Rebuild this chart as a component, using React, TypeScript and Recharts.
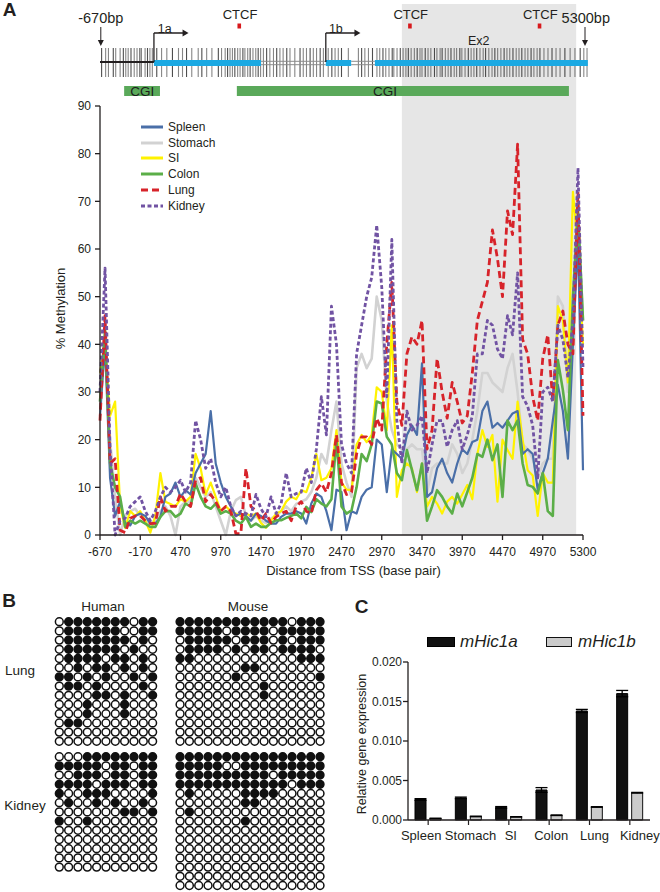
import React from 'react';
import {
  ComposedChart, LineChart, Line, XAxis, YAxis, ReferenceArea, ReferenceLine, ReferenceDot,
  Legend, Label, ScatterChart, Scatter, BarChart, Bar, ErrorBar,
} from 'recharts';

const FONT = '"Liberation Sans", Arial, Helvetica, sans-serif';
const INK = '#231f20';

// ---------------- Panel A : methylation profile ----------------
const POS = [0,0.125,0.25,0.375,0.5,0.625,0.75,0.875,1,1.125,1.25,1.375,1.5,1.625,1.75,1.875,2,2.125,2.25,2.375,2.5,2.625,2.75,2.875,3,3.125,3.25,3.375,3.5,3.625,3.75,3.875,4,4.125,4.25,4.375,4.5,4.625,4.75,4.875,5,5.125,5.25,5.375,5.5,5.625,5.75,5.875,6,6.125,6.25,6.375,6.5,6.625,6.75,6.875,7,7.125,7.25,7.375,7.5,7.625,7.75,7.875,8,8.125,8.25,8.375,8.5,8.625,8.75,8.875,9,9.125,9.25,9.375,9.5,9.625,9.75,9.875,10,10.125,10.25,10.375,10.5,10.625,10.75,10.875,11,11.125,11.25,11.375,11.5,11.625,11.75,11.875,12];
const X_TICKS = [0,1,2,3,4,5,6,7,8,9,10,11,12];
const X_TICK_LABELS = ['-670','-170','470','970','1470','1970','2470','2970','3470','3970','4470','4970','5300'];
const Y_TICKS = [0,10,20,30,40,50,60,70,80,90];

const SPLEEN = [25,40,12,4,7,2.5,2,4,4.5,4, 2.4,2.4,3.8,8,8.7,11,8,9.4,8.5,13, 15,17,26,15,11,8,6,4,4.5,4, 3,4.5,4,3,2.4,2.4,3.8,4.5,4.5,5, 4.5,2.4,6.6,8.7,8,5,1,9.5,9,1, 5,4.5,8,9.5,10,20,19,9,18,17, 16,21,23,21,36,8,9,14,16,13, 11,15,18,17,19.5,20,26,28,22.5,23.5, 22.5,24,25.5,26,17,18,17,9.5,13,16, 24,31.5,26,16,40,62,13.6];
const STOMACH = [28,40,20,8,0,4,5,5.5,4,3, 2.5,3,5,6,4,0,6,7,7,12, 10,8,9,6,3,0,5,7.3,8,4, 3,4,3,2.5,3.5,4,5,6,5,6.5, 7,7.5,9,12,17,15,22,28,15,11, 8,35,38,35,37,50,45,28,22,19, 18,18,19,18,18,9,14,15,15,15, 19,17,13,15,20,26,34,34,32,31, 30,35,38,30,19,18,16,12,15,16, 16,50,48,30,45,68,45];
const SI = [34,40,25,28,6,1.5,5,4,5,3, 0.5,4,13,7,6.5,6,7.5,7,8,17, 14,8.5,11,8,5,6,5,4.5,4,4.5, 4,4.5,2.5,1.5,3,4.5,5,7,8,7.5, 9.4,9,12,17,11.5,12,14,22,11,9.5, 9.4,19,21,19.5,21,31,30,22,44,8, 13.6,15,14,9,15,6,8,6.6,4.5,7, 8,6.6,8.5,10.5,7.5,17,22,18.5,21,7, 20,17.8,16,28,20,13.6,12.5,4,13,11, 11,48,45,32,72,60,40];
const COLON = [28,43,15,10,8,1.7,3,2.4,3,2.4, 1.7,1.7,3.8,5,5,3.8,4.5,6.6,6,10.8, 8,6,5.5,6.6,4.5,5,4.5,3,2.4,3.8, 1.7,2.4,1.7,1.7,2.5,3.1,3.1,3.6,4,4.5, 3.5,5.9,4.8,7.5,6.6,6,7.5,20,6,4.5, 5.2,10,17,15.5,19,28,27.6,20.6,19,13, 11.5,17.8,13.6,9.4,15,3,6,9.4,8,6, 4.5,8.7,6,9,12,17,16.4,20,15.7,19, 8,24,22,24,15,10.5,10.1,8.7,13,5, 4,36.7,30.4,22,50,68,45];
const LUNG = [24,46,15,16,1,0.5,3.5,4,4,3, 2.4,2.5,8,5,6,6,8.7,7,6,11.5, 12,7,8.5,7,5,6,5,0.3,0.3,14, 6,5,3,4.5,2.5,3.8,4.5,5,3,6, 7,5,4.5,9.4,10.8,9,13,21,11,8.5, 9,17,20.6,20.6,19,24.5,22,40,53,28, 23,38,41.6,40,45,18,22,37,30,24.5, 32,28,23.5,25,34,45,49,53,64,58, 50,68,63,82,41,38,29,24,37,42, 28,44,47,40,38,72,25];
const KIDNEY = [30,56,18,0,3,3.5,6,7,8,5, 3,5,8,10,9,10,11.5,9,11,24, 20,14,16,11,8,10,6,4,5,4.5, 4,8.5,5.5,3.8,8,4.5,6.6,13,8,8.7, 9,14,11,18,29,21,48,40,19,15, 13,38,44,50,54,65,52,29,62,24, 15,26,22,23,25,13,19,24,24,18.5, 22,24,18,21,25,38,38,45,44,39, 37,46,42,55,29,27,23,12,30,31, 28,44,41,33,45,77,35];

const SERIES = [
  { key: 'spleen', name: 'Spleen', color: '#4a6fa8', width: 2.2, dash: undefined as string | undefined },
  { key: 'stomach', name: 'Stomach', color: '#d2d2d2', width: 2.6, dash: undefined },
  { key: 'si', name: 'SI', color: '#fff200', width: 2.2, dash: undefined },
  { key: 'colon', name: 'Colon', color: '#5bae48', width: 2.6, dash: undefined },
  { key: 'lung', name: 'Lung', color: '#d7232a', width: 2.8, dash: '7 4' },
  { key: 'kidney', name: 'Kidney', color: '#7153a3', width: 2.8, dash: '4 2.5' },
];
const DRAW_ORDER = ['stomach', 'si', 'spleen', 'colon', 'lung', 'kidney'];

const METH_ROWS = POS.map((pos, i) => ({
  pos, spleen: SPLEEN[i], stomach: STOMACH[i], si: SI[i], colon: COLON[i], lung: LUNG[i], kidney: KIDNEY[i],
}));

// gene map (positions in the same axis units as the profile)
const CPG_SITES = [
  0.04,0.14,0.21,0.33,0.39,0.5,0.58,0.64,0.7,0.77,0.85,0.92,0.99,1.03,1.12,1.18,1.24,1.3,
  1.41,1.53,1.66,1.8,1.95,2.05,2.15,2.28,2.44,2.53,2.65,2.78,2.94,3.02,3.11,3.17,3.23,3.29,3.35,3.42,3.48,3.55,3.6,3.67,3.73,3.8,3.87,3.93,3.99,
  4.06,4.14,4.22,4.31,4.39,4.47,4.55,4.64,4.72,4.84,4.97,5.05,5.13,5.22,5.3,5.38,5.47,5.55,
  5.67,5.76,5.84,5.92,6.0,6.17,6.42,6.5,6.58,6.67,6.77,
  6.88,6.95,7.03,7.1,7.18,7.26,7.3,7.38,7.46,7.53,7.6,7.66,7.73,7.81,7.88,7.95,8.0,8.08,8.15,8.22,8.31,8.37,8.45,8.5,8.58,8.65,8.72,8.8,8.86,8.94,8.99,9.07,9.15,9.22,9.29,9.36,9.44,9.52,9.58,9.66,9.74,9.81,9.88,9.96,10.04,10.11,10.18,10.26,10.34,10.41,10.48,10.56,10.63,10.71,10.78,10.86,10.93,11.03,11.13,11.23,11.33,11.43,11.55,11.68,11.8,11.93,12.02,12.1,
];
const EXONS = [[1.34, 4.0], [5.61, 6.24], [6.83, 12.12]];
const INTRONS = [[4.0, 5.61], [6.24, 6.83]];
const CGI_REGIONS = [[0.6, 1.49], [3.4, 11.65]];
const CGI_LABEL_POS = [1.05, 7.08];
const CTCF_SITES = [3.46, 7.7, 10.92];
const EXON2_REGION = [7.5, 11.83];
const TSS_1A = 1.34;
const TSS_1B = 5.61;
const START_POS = 0.02;
const END_POS = 12.05;

// ---------------- Panel B : bisulfite clones ----------------
const HUMAN_LUNG = [
  '01111111011','01111110011','01111111010','01111110100','01111011010','00101101010','11010100101',
  '01101000010','00001101001','00010001000','00010001000','01100000000','00000000000','00000000000',
];
const MOUSE_LUNG = [
  '1111111111110111','1111101111011111','0111110111010111','0111101011011110','1100000000000111',
  '0000000110000000','0000001000000001','0000000001000000','0000000001000000','0000000000000000',
  '0000000000000000','0000000000000000','0000000000000000','0000000000000000',
];
const HUMAN_KIDNEY = [
  '00011111111','11111011011','00111011011','11110111011','10011100001','01001010010','00000001101',
  '10010000000','00000000000','00000000000','00000000000','00000000000','00000000000',
];
const MOUSE_KIDNEY = [
  '1111111111111111','1111100111111111','1111111111011111','1111111111110111','0100000111100000',
  '0000000110000000','0100000000000000','0000000100000000','0000000000000000','0000000000000000',
  '0000000000000000','0000000000000000','0000000000000000','0000000000000000','0000000000000000',
];
const B_GRIDS = [
  { rows: HUMAN_LUNG, col0: 0, row0: 0 },
  { rows: MOUSE_LUNG, col0: 12.94, row0: 0 },
  { rows: HUMAN_KIDNEY, col0: 0, row0: 14.67 },
  { rows: MOUSE_KIDNEY, col0: 12.94, row0: 14.67 },
];
const CLONE_DOTS = B_GRIDS.flatMap((g) =>
  g.rows.flatMap((row, r) => row.split('').map((ch, c) => ({ col: g.col0 + c, row: g.row0 + r, on: ch === '1' }))),
);

// ---------------- Panel C : expression ----------------
const TISSUES = ['Spleen', 'Stomach', 'SI', 'Colon', 'Lung', 'Kidney'];
const HIC1A = [0.0026, 0.0028, 0.0016, 0.0038, 0.0138, 0.0160];
const HIC1A_ERR = [0.0001, 0.0001, 0.0001, 0.0003, 0.0002, 0.0004];
const HIC1B = [0.0002, 0.00045, 0.0004, 0.0006, 0.00165, 0.00345];
const HIC1B_ERR = [0.00003, 0.00004, 0.00003, 0.00004, 0.00004, 0.00005];
const C_TICKS = [0, 0.005, 0.01, 0.015, 0.02];
const C_TICK_DX = [-7, 2, 2, 2, 5, 10];
const EXPR_ROWS = TISSUES.map((t, i) => ({ tissue: t, a: HIC1A[i], aErr: HIC1A_ERR[i], b: HIC1B[i], bErr: HIC1B_ERR[i] }));

// ---------------- helpers ----------------
const textMark = (key: string, x: number, y: number, text: string, size: number, extra: any = {}) => (
  <ReferenceDot key={key} x={x} y={y} r={0} fill="none" stroke="none" ifOverflow="visible"
    label={{ value: text, position: 'center', fontSize: size, fill: INK, fontFamily: FONT, ...extra }} />
);
const arrowDown = (p: any) => <path d={`M${p.cx - 3},${p.cy - 6} L${p.cx + 3},${p.cy - 6} L${p.cx},${p.cy} Z`} fill={INK} />;
const arrowRight = (p: any) => <path d={`M${p.cx - 6},${p.cy - 3.5} L${p.cx},${p.cy} L${p.cx - 6},${p.cy + 3.5} Z`} fill={INK} />;
const ctcfMark = (p: any) => <rect x={p.cx - 1.8} y={p.cy - 2.5} width={3.6} height={5} fill="#d7191c" />;

const yTitle = (text: string, dx: number, dy: number, size: number) => (props: any) => {
  const vb = props.viewBox || { x: 0, y: 0, width: 0, height: 0 };
  const cx = vb.x + dx;
  const cy = vb.y + vb.height / 2 + dy;
  return (
    <text x={cx} y={cy} transform={`rotate(-90 ${cx} ${cy})`} textAnchor="middle" dominantBaseline="central"
      fontSize={size} fill={INK} fontFamily={FONT}>{text}</text>
  );
};
const xTitle = (props: any) => {
  const vb = props.viewBox || { x: 0, y: 0, width: 0, height: 0 };
  const cx = vb.x + vb.width / 2 + 12;
  const cy = vb.y + 35;
  return (
    <text x={cx} y={cy} textAnchor="middle" dominantBaseline="central" fontSize={13} fill={INK} fontFamily={FONT}>
      Distance from TSS (base pair)
    </text>
  );
};

const CTick = (p: any) => (
  <text x={p.x + (C_TICK_DX[p.index] || 0)} y={p.y} dy="0.71em" textAnchor="middle" fontSize={13} fill={INK} fontFamily={FONT}>
    {p.payload.value}
  </text>
);

const MethLegend = () => (
  <div style={{ fontFamily: FONT, fontSize: 12, color: INK }}>
    {SERIES.map((s) => (
      <div key={s.key} style={{ display: 'flex', alignItems: 'center', height: 15.8 }}>
        <svg width={24} height={8} style={{ display: 'block' }}>
          <line x1={1} y1={4} x2={23} y2={4} stroke={s.color} strokeWidth={3} strokeDasharray={s.dash} />
        </svg>
        <span style={{ marginLeft: 4, lineHeight: '14px' }}>{s.name}</span>
      </div>
    ))}
  </div>
);

const ExprLegend = () => (
  <div style={{ position: 'relative', width: 230, height: 20, fontFamily: FONT, fontStyle: 'italic', fontSize: 17, color: INK }}>
    <div style={{ position: 'absolute', left: 0, top: 5, width: 26, height: 8, background: '#111', border: '1px solid #000' }} />
    <span style={{ position: 'absolute', left: 33, top: 0, lineHeight: '19px' }}>mHic1a</span>
    <div style={{ position: 'absolute', left: 119, top: 5, width: 24, height: 8, background: '#cbcbcb', border: '1px solid #111' }} />
    <span style={{ position: 'absolute', left: 151, top: 0, lineHeight: '19px' }}>mHic1b</span>
  </div>
);

const CloneDot = (p: any) => (
  <circle cx={p.cx} cy={p.cy} r={3.9} fill={p.payload && p.payload.on ? '#111' : '#fff'} stroke="#111" strokeWidth={1.5} />
);

const tickStyle = { fontSize: 12, fill: INK, fontFamily: FONT };

const Txt = ({ x, y, children, size = 13.5, bold = false }: any) => (
  <div style={{
    position: 'absolute', left: x, top: y, transform: 'translate(-50%,-50%)', fontFamily: FONT,
    fontSize: size, fontWeight: bold ? 700 : 400, color: INK, lineHeight: 1, whiteSpace: 'nowrap',
  }}>{children}</div>
);

export default function App() {
  return (
    <div style={{ position: 'absolute', left: 0, top: 0, width: 660, height: 892, background: '#fff', overflow: 'hidden', fontFamily: FONT }}>
      {/* Gene map */}
      <div style={{ position: 'absolute', left: 0, top: 0 }}>
        <ComposedChart width={660} height={106} margin={{ top: 0, right: 77, bottom: 0, left: 100 }}
          data={CPG_SITES.map((x) => ({ x, y: 62 }))}>
          <XAxis type="number" dataKey="x" domain={[0, 12]} hide allowDataOverflow />
          <YAxis type="number" dataKey="y" domain={[0, 106]} reversed hide allowDataOverflow />
          <ReferenceArea x1={EXON2_REGION[0]} x2={EXON2_REGION[1]} y1={4} y2={106} fill="#e6e6e6" fillOpacity={1} stroke="none" ifOverflow="visible" />
          {CPG_SITES.map((x, i) => (
            <ReferenceLine key={'cpg' + i} segment={[{ x, y: 48 }, { x, y: 77 }]} stroke="#222" strokeOpacity={i % 3 === 0 ? 0.8 : 0.55} strokeWidth={1.1} ifOverflow="visible" />
          ))}
          <ReferenceLine segment={[{ x: 0, y: 62 }, { x: TSS_1A, y: 62 }]} stroke={INK} strokeWidth={2} ifOverflow="visible" />
          {INTRONS.map((s, i) => (
            <ReferenceLine key={'in1' + i} segment={[{ x: s[0], y: 61.3 }, { x: s[1], y: 61.3 }]} stroke="#8c8c8c" strokeWidth={1} ifOverflow="visible" />
          ))}
          {INTRONS.map((s, i) => (
            <ReferenceLine key={'in2' + i} segment={[{ x: s[0], y: 64.7 }, { x: s[1], y: 64.7 }]} stroke="#8c8c8c" strokeWidth={1} ifOverflow="visible" />
          ))}
          {EXONS.map((s, i) => (
            <ReferenceLine key={'ex' + i} segment={[{ x: s[0], y: 63 }, { x: s[1], y: 63 }]} stroke="#1ba9e3" strokeWidth={6} ifOverflow="visible" />
          ))}
          {/* TSS arrows */}
          <ReferenceLine segment={[{ x: TSS_1A, y: 62 }, { x: TSS_1A, y: 33 }]} stroke={INK} strokeWidth={1.3} ifOverflow="visible" />
          <ReferenceLine segment={[{ x: TSS_1A, y: 33 }, { x: TSS_1A + 0.78, y: 33 }]} stroke={INK} strokeWidth={1.3} ifOverflow="visible" />
          <ReferenceDot x={TSS_1A + 0.86} y={33} r={1} ifOverflow="visible" shape={arrowRight} />
          <ReferenceLine segment={[{ x: TSS_1B, y: 62 }, { x: TSS_1B, y: 33 }]} stroke={INK} strokeWidth={1.3} ifOverflow="visible" />
          <ReferenceLine segment={[{ x: TSS_1B, y: 33 }, { x: TSS_1B + 0.78, y: 33 }]} stroke={INK} strokeWidth={1.3} ifOverflow="visible" />
          <ReferenceDot x={TSS_1B + 0.86} y={33} r={1} ifOverflow="visible" shape={arrowRight} />
          {/* region end arrows */}
          <ReferenceLine segment={[{ x: START_POS, y: 27 }, { x: START_POS, y: 42 }]} stroke={INK} strokeWidth={1} ifOverflow="visible" />
          <ReferenceDot x={START_POS} y={46} r={1} ifOverflow="visible" shape={arrowDown} />
          <ReferenceLine segment={[{ x: END_POS, y: 27 }, { x: END_POS, y: 42 }]} stroke={INK} strokeWidth={1} ifOverflow="visible" />
          <ReferenceDot x={END_POS} y={46} r={1} ifOverflow="visible" shape={arrowDown} />
          {CTCF_SITES.map((x, i) => (
            <ReferenceDot key={'ctm' + i} x={x} y={26} r={1} ifOverflow="visible" shape={ctcfMark} />
          ))}
          {CGI_REGIONS.map((s, i) => (
            <ReferenceArea key={'cgi' + i} x1={s[0]} x2={s[1]} y1={86} y2={96} fill="#5aa95a" fillOpacity={1} stroke="none" ifOverflow="visible" />
          ))}
          {CGI_LABEL_POS.map((x, i) => textMark('cgit' + i, x, 91, 'CGI', 13.5, { fill: '#1d1d1d' }))}
          {CTCF_SITES.map((x, i) => textMark('ctt' + i, x + 0.02, 14, 'CTCF', 13))}
          {textMark('st', START_POS, 18, '-670bp', 14.5)}
          {textMark('en', END_POS + 0.02, 18, '5300bp', 14.5)}
          {textMark('t1a', TSS_1A + 0.27, 28.5, '1a', 12.5)}
          {textMark('t1b', TSS_1B + 0.25, 28.5, '1b', 12.5)}
          {textMark('ex2', 9.41, 41, 'Ex2', 12.5)}
        </ComposedChart>
      </div>

      {/* Methylation profile */}
      <div style={{ position: 'absolute', left: 0, top: 96 }}>
        <LineChart width={660} height={490} data={METH_ROWS} margin={{ top: 10, right: 77, bottom: 9, left: 60 }}>
          <ReferenceArea x1={EXON2_REGION[0]} x2={EXON2_REGION[1]} y1={0} y2={90} fill="#e6e6e6" fillOpacity={1} stroke="none" />
          <XAxis type="number" dataKey="pos" domain={[0, 12]} ticks={X_TICKS} interval={0}
            tickFormatter={(v: number) => X_TICK_LABELS[X_TICKS.indexOf(v)]}
            tick={tickStyle} tickSize={5} tickMargin={7} height={42}
            axisLine={{ stroke: INK, strokeWidth: 1.3 }} tickLine={{ stroke: INK, strokeWidth: 1.3 }}
            label={<Label content={xTitle} />} />
          <YAxis type="number" domain={[0, 90]} ticks={Y_TICKS} interval={0} width={40}
            tick={tickStyle} tickSize={5} tickMargin={4}
            axisLine={{ stroke: INK, strokeWidth: 1.3 }} tickLine={{ stroke: INK, strokeWidth: 1.3 }}
            label={<Label content={yTitle('% Methylation', 0, -12, 13)} />} />
          <Legend layout="vertical" align="center" verticalAlign="middle" content={MethLegend}
            wrapperStyle={{ left: 140, top: 23, width: 110, height: 100 }} />
          {DRAW_ORDER.map((k) => {
            const s = SERIES.find((q) => q.key === k)!;
            return (
              <Line key={k} type="linear" dataKey={k} name={s.name} stroke={s.color} strokeWidth={s.width}
                strokeDasharray={s.dash} dot={false} activeDot={false} isAnimationActive={false} strokeLinejoin="round" />
            );
          })}
        </LineChart>
      </div>

      {/* Panel B */}
      <div style={{ position: 'absolute', left: 0, top: 590 }}>
        <ScatterChart width={330} height={302} margin={{ top: 31.7, right: 9.4, bottom: 6.5, left: 59.3 }}>
          <XAxis type="number" dataKey="col" domain={[0, 28]} hide />
          <YAxis type="number" dataKey="row" domain={[0, 28.67]} reversed hide />
          <Scatter data={CLONE_DOTS} shape={CloneDot} isAnimationActive={false} />
        </ScatterChart>
      </div>

      {/* Panel C */}
      <div style={{ position: 'absolute', left: 330, top: 600 }}>
        <BarChart width={330} height={292} data={EXPR_ROWS} margin={{ top: 62, right: 10, bottom: 47, left: 30 }}
          barSize={11} barGap={4}>
          <XAxis dataKey="tissue" type="category" interval={0} tick={<CTick />}
            tickSize={5} tickMargin={6} height={25}
            axisLine={{ stroke: INK, strokeWidth: 1.3 }} tickLine={{ stroke: INK, strokeWidth: 1.2 }} />
          <YAxis type="number" domain={[0, 0.02]} ticks={C_TICKS} interval={0} width={48}
            tickFormatter={(v: number) => v.toFixed(3)} tick={tickStyle} tickSize={5} tickMargin={1}
            axisLine={{ stroke: INK, strokeWidth: 1.3 }} tickLine={{ stroke: INK, strokeWidth: 1.3 }}
            label={<Label content={yTitle('Relative gene expression', 2, 3, 12.5)} />} />
          <Legend layout="vertical" align="center" verticalAlign="middle" content={ExprLegend}
            wrapperStyle={{ left: 97, top: 32, width: 230, height: 20 }} />
          <Bar dataKey="a" name="mHic1a" fill="#111" stroke="#000" strokeWidth={1} isAnimationActive={false}>
            <ErrorBar dataKey="aErr" width={6} stroke="#000" strokeWidth={1.3} direction="y" />
          </Bar>
          <Bar dataKey="b" name="mHic1b" fill="#cbcbcb" stroke="#111" strokeWidth={1} isAnimationActive={false}>
            <ErrorBar dataKey="bErr" width={6} stroke="#000" strokeWidth={1.2} direction="y" />
          </Bar>
        </BarChart>
      </div>

      {/* Panel letters & titles */}
      <Txt x={9.5} y={9} size={19} bold>A</Txt>
      <Txt x={9} y={600} size={19} bold>B</Txt>
      <Txt x={361.5} y={606} size={19} bold>C</Txt>
      <Txt x={103} y={607}>Human</Txt>
      <Txt x={248} y={607}>Mouse</Txt>
      <Txt x={20} y={671}>Lung</Txt>
      <Txt x={25} y={806}>Kidney</Txt>
    </div>
  );
}
